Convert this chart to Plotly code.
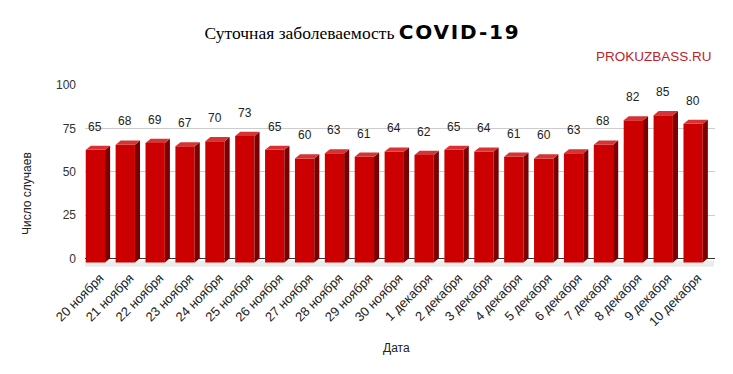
import plotly.graph_objects as go

dates = ["20 ноября", "21 ноября", "22 ноября", "23 ноября", "24 ноября", "25 ноября",
         "26 ноября", "27 ноября", "28 ноября", "29 ноября", "30 ноября", "1 декабря",
         "2 декабря", "3 декабря", "4 декабря", "5 декабря", "6 декабря", "7 декабря",
         "8 декабря", "9 декабря", "10 декабря"]
cases = [65, 68, 69, 67, 70, 73, 65, 60, 63, 61, 64, 62, 65, 64, 61, 60, 63, 68, 82, 85, 80]
y_ticks = [0, 25, 50, 75, 100]

# 3D look parameters (in axis units)
OFF = -0.152     # front face shift from slot centre
W = 0.646        # front face width
DX = 0.17        # depth to the right
DY = 2.4         # depth upward
BASE = -2.4      # front face base

FRONT = "#cc0000"
SIDE = "#7c0000"
TOP = "#d63434"
FONT = "Liberation Sans, Arial, sans-serif"

idx = list(range(len(cases)))
xf = [i + OFF for i in idx]

side_x, side_y, top_x, top_y = [], [], [], []
for i, v in zip(idx, cases):
    xl = i + OFF - W / 2
    xr = i + OFF + W / 2
    t = BASE + v
    side_x += [xr, xr + DX, xr + DX, xr, xr, None]
    side_y += [BASE, BASE + DY, t + DY, t, BASE, None]
    top_x += [xl, xl + DX, xr + DX, xr, xl, None]
    top_y += [t, t + DY, t + DY, t, t, None]

fig = go.Figure()
fig.add_trace(go.Bar(x=xf, y=cases, base=BASE, width=W, marker=dict(color=FRONT, line=dict(width=0)),
                     hoverinfo="skip"))
fig.add_trace(go.Scatter(x=side_x, y=side_y, mode="lines", fill="toself", fillcolor=SIDE,
                         line=dict(width=0, color=SIDE), hoverinfo="skip"))
fig.add_trace(go.Scatter(x=top_x, y=top_y, mode="lines", fill="toself", fillcolor=TOP,
                         line=dict(width=0, color=TOP), hoverinfo="skip"))

for i, v in zip(idx, cases):
    fig.add_annotation(x=i + OFF, y=v, text=str(v), showarrow=False, yanchor="bottom", yshift=10,
                       font=dict(family=FONT, size=12, color="#222222"))

# floor shadow
fig.add_shape(type="rect", xref="x", yref="y", x0=-0.62, x1=20.55, y0=-4.9, y1=-1.2,
              fillcolor="#ececec", line=dict(width=0), layer="below")

fig.add_annotation(xref="paper", yref="paper", x=0.998, y=1.154, xanchor="right", yanchor="middle",
                   text="PROKUZBASS.RU", showarrow=False,
                   font=dict(family=FONT, size=13.5, color="#c0222a"))
fig.add_annotation(xref="paper", yref="paper", x=0.494, y=-0.445, xanchor="center", yanchor="middle",
                   text="Дата", showarrow=False, font=dict(family=FONT, size=12, color="#222222"))
fig.add_annotation(xref="paper", yref="paper", x=-0.092, y=0.401, xanchor="center", yanchor="middle",
                   text="Число случаев", textangle=-90, showarrow=False,
                   font=dict(family=FONT, size=12, color="#222222"))

# page body has an 8px margin, so the figure is shrunk by 8px and shifted accordingly
fig.update_layout(
    width=725, height=366,
    margin=dict(l=77, r=18, t=77, b=107),
    paper_bgcolor="white", plot_bgcolor="white",
    showlegend=False,
    title=dict(
        text="Суточная заболеваемость <span style='font-family:DejaVu Sans; font-weight:bold; font-size:20px; letter-spacing:1.8px'>COVID-19</span>",
        x=354.5 / 725, xref="container", xanchor="center",
        y=1 - 25 / 366, yref="container", yanchor="middle",
        font=dict(family="Liberation Serif, Times New Roman, serif", size=17.5, color="#000000"),
    ),
    xaxis=dict(range=[-0.5, 20.58], tickmode="array", tickvals=idx, ticktext=dates,
               tickangle=-45, showgrid=False, zeroline=False, showline=False, ticks="",
               tickfont=dict(family=FONT, size=13, color="#222222"), fixedrange=True),
    yaxis=dict(range=[-5, 100], tickmode="array", tickvals=y_ticks, ticktext=[str(t) for t in y_ticks],
               showgrid=True, gridcolor="#cccccc", gridwidth=1,
               zeroline=True, zerolinecolor="#333333", zerolinewidth=1,
               showline=False, ticks="", ticklabelstandoff=8,
               tickfont=dict(family=FONT, size=12, color="#333333"), fixedrange=True),
)

fig.write_html("out.html")
